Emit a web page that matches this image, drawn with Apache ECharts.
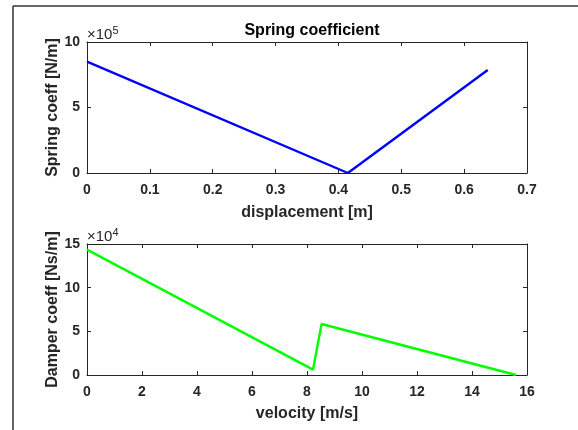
<!DOCTYPE html>
<html><head><meta charset="utf-8">
<script src="https://cdn.jsdelivr.net/npm/echarts@6/dist/echarts.min.js"></script>
<style>html,body{margin:0;padding:0;background:#fff}#c{width:578px;height:430px}</style>
</head><body><div id="c"></div>
<script>
const springX = [0, 0.415, 0.6375];
const springY = [850000, 0, 786000];
const damperX = [0, 8.22, 8.53, 15.6];
const damperY = [143600, 6200, 58400, 0];
const xTicksTop = [0, 0.1, 0.2, 0.3, 0.4, 0.5, 0.6, 0.7];
const xTicksBottom = [0, 2, 4, 6, 8, 10, 12, 14, 16];

const F = 'Liberation Sans, Arial, sans-serif';
const axisCol = '#262626';
const chart = echarts.init(document.getElementById('c'), null, {renderer: 'canvas'});

function mainX(gi, max, interval, name, dec, gap) {
  return {type: 'value', gridIndex: gi, min: 0, max: max, interval: interval, position: 'bottom',
    name: name, nameLocation: 'middle', nameGap: gap, nameMoveOverlap: false,
    nameTextStyle: {fontFamily: F, fontWeight: 'bold', fontSize: 16, color: '#262626'},
    axisLine: {show: true, onZero: false, lineStyle: {color: axisCol}},
    axisTick: {show: true, inside: true, length: 4, lineStyle: {color: axisCol}},
    axisLabel: {fontFamily: F, fontWeight: 'bold', fontSize: 14, color: '#262626', margin: 10,
      formatter: v => dec ? (v === 0 ? '0' : v.toFixed(1)) : String(v)},
    splitLine: {show: false}};
}
function boxX(gi, max, interval) {
  return {type: 'value', gridIndex: gi, min: 0, max: max, interval: interval, position: 'top',
    axisLine: {show: true, onZero: false, lineStyle: {color: axisCol}},
    axisTick: {show: true, inside: true, length: 4, lineStyle: {color: axisCol}},
    axisLabel: {show: false}, splitLine: {show: false}};
}
function mainY(gi, max, interval, scale, name) {
  return {type: 'value', gridIndex: gi, min: 0, max: max, interval: interval, position: 'left',
    name: name, nameLocation: 'middle', nameGap: 26, nameMoveOverlap: false,
    nameTextStyle: {fontFamily: F, fontWeight: 'bold', fontSize: 16, color: '#262626'},
    axisLine: {show: true, onZero: false, lineStyle: {color: axisCol}},
    axisTick: {show: true, inside: true, length: 4, lineStyle: {color: axisCol}},
    axisLabel: {fontFamily: F, fontWeight: 'bold', fontSize: 14, color: '#262626', margin: 7,
      formatter: v => String(Math.round(v / scale))},
    splitLine: {show: false}};
}
function boxY(gi, max, interval) {
  return {type: 'value', gridIndex: gi, min: 0, max: max, interval: interval, position: 'right',
    axisLine: {show: true, onZero: false, lineStyle: {color: axisCol}},
    axisTick: {show: true, inside: true, length: 4, lineStyle: {color: axisCol}},
    axisLabel: {show: false}, splitLine: {show: false}};
}

chart.setOption({
  backgroundColor: '#fff',
  animation: false,
  title: {text: 'Spring coefficient', left: 307, top: 18, textAlign: 'center',
    textStyle: {fontFamily: F, fontWeight: 'bold', fontSize: 16, color: '#000'}},
  grid: [
    {left: 87, top: 42, width: 440, height: 131},
    {left: 87, top: 244, width: 440, height: 131}
  ],
  xAxis: [
    mainX(0, xTicksTop[xTicksTop.length - 1], 0.1, 'displacement [m]', true, 32),
    boxX(0, xTicksTop[xTicksTop.length - 1], 0.1),
    mainX(1, xTicksBottom[xTicksBottom.length - 1], 2, 'velocity [m/s]', false, 31),
    boxX(1, xTicksBottom[xTicksBottom.length - 1], 2)
  ],
  yAxis: [
    mainY(0, 1000000, 500000, 100000, 'Spring coeff [N/m]'),
    boxY(0, 1000000, 500000),
    mainY(1, 150000, 50000, 10000, 'Damper coeff [Ns/m]'),
    boxY(1, 150000, 50000)
  ],
  series: [
    {type: 'line', xAxisIndex: 0, yAxisIndex: 0, data: springX.map((x, i) => [x, springY[i]]),
      showSymbol: false, lineStyle: {color: '#0000ff', width: 2.4}, itemStyle: {color: '#0000ff'}},
    {type: 'line', xAxisIndex: 2, yAxisIndex: 2, data: damperX.map((x, i) => [x, damperY[i]]),
      showSymbol: false, lineStyle: {color: '#00ff00', width: 2.4}, itemStyle: {color: '#00ff00'}}
  ],
  graphic: [
    {type: 'line', shape: {x1: 13, y1: 6, x2: 578, y2: 6}, style: {stroke: '#333', lineWidth: 1.5}},
    {type: 'line', shape: {x1: 13, y1: 6, x2: 13, y2: 430}, style: {stroke: '#333', lineWidth: 1.5}},
    {type: 'text', left: 87, top: 25, style: {text: '×10{s|5}', rich: {s: {fontSize: 11, verticalAlign: 'top', fontFamily: F, padding: [0, 0, 9, 0]}},
      fontFamily: F, fontSize: 15, fill: '#262626'}},
    {type: 'text', left: 87, top: 227, style: {text: '×10{s|4}', rich: {s: {fontSize: 11, verticalAlign: 'top', fontFamily: F, padding: [0, 0, 9, 0]}},
      fontFamily: F, fontSize: 15, fill: '#262626'}}
  ]
});
</script></body></html>
